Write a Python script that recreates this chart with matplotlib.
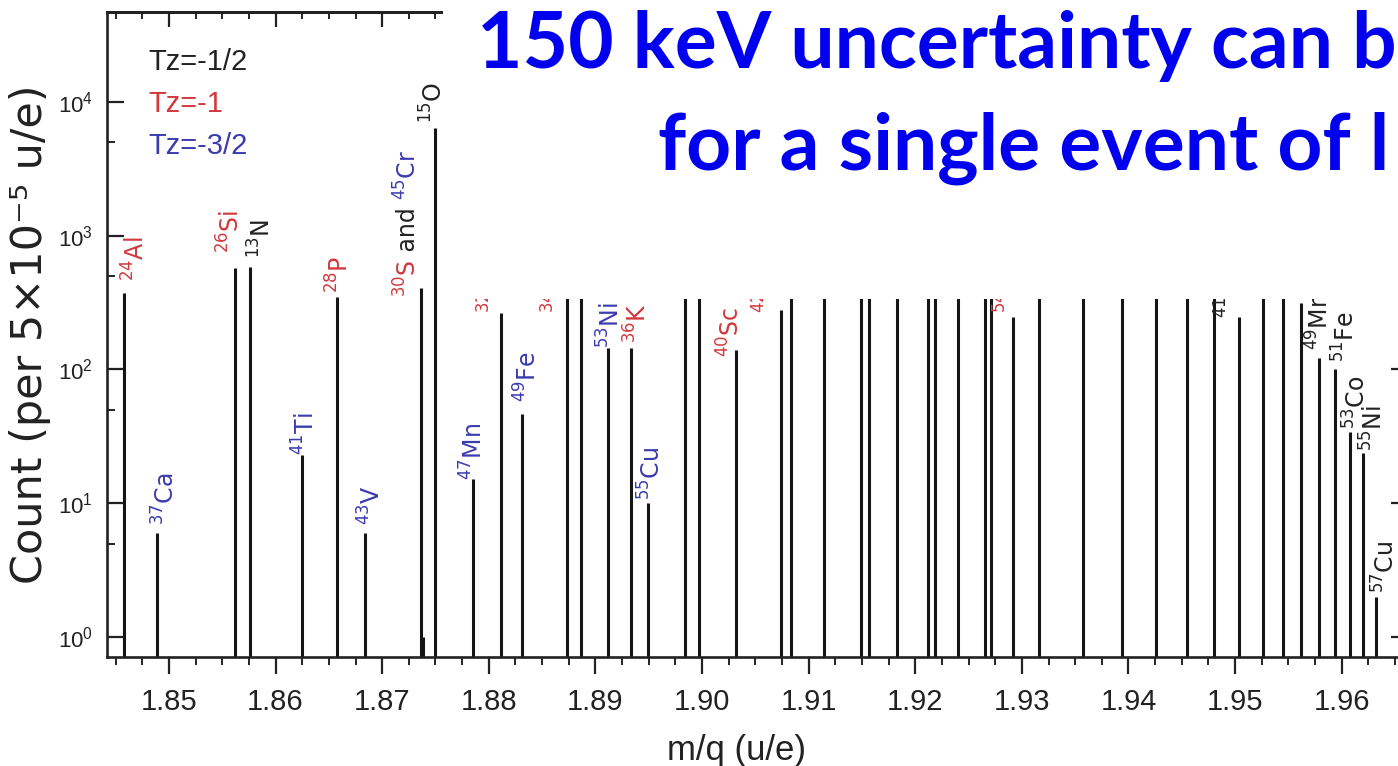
import matplotlib.pyplot as plt
from matplotlib.patches import Rectangle
from matplotlib.ticker import MultipleLocator, LogLocator, FormatStrFormatter, NullFormatter

# peak positions (m/q, u/e) and counts per 5e-5 u/e bin
mq = [1.84579, 1.84891, 1.85620, 1.85756, 1.86246, 1.86575, 1.86839, 1.87364, 1.87386, 1.87494,
      1.87855, 1.88113, 1.88312, 1.88737, 1.88865, 1.89122, 1.89334, 1.89497, 1.89837, 1.89969,
      1.90323, 1.90744, 1.90839, 1.91146, 1.91487, 1.91566, 1.91826, 1.92115, 1.92185, 1.92404,
      1.92652, 1.92711, 1.92915, 1.93165, 1.93569, 1.93935, 1.94258, 1.94547, 1.94798, 1.95040,
      1.95264, 1.95453, 1.95622, 1.95787, 1.95933, 1.96078, 1.96200, 1.96322]
counts = [370, 6.0, 574, 580, 23, 348, 6.0, 407, 1.0, 6390,
          15.1, 263, 46.5, 1200, 3000, 144, 144, 10.1, 2500, 1800,
          140, 279, 2200, 3500, 1500, 2800, 4000, 2000, 3000, 2500,
          1200, 2600, 248, 3800, 5000, 2400, 3300, 4200, 2900, 248,
          1900, 2700, 316, 121, 100, 34.3, 23.9, 2.0]

# nuclide labels and their isospin projection
lab_text = [r'$^{24}$Al', r'$^{37}$Ca', r'$^{26}$Si', r'$^{13}$N', r'$^{41}$Ti', r'$^{28}$P',
            r'$^{43}$V', r'$^{15}$O', r'$^{47}$Mn', r'$^{32}$Cl', r'$^{49}$Fe', r'$^{34}$Ar',
            r'$^{53}$Ni', r'$^{36}$K', r'$^{55}$Cu', r'$^{40}$Sc', r'$^{42}$Ti', r'$^{54}$Ni',
            r'$^{41}$Sc', r'$^{49}$Mn', r'$^{51}$Fe', r'$^{53}$Co', r'$^{55}$Ni', r'$^{57}$Cu']
lab_tz = ['-1', '-3/2', '-1', '-1/2', '-3/2', '-1', '-3/2', '-1/2', '-3/2', '-1', '-3/2', '-1',
          '-3/2', '-1', '-3/2', '-1', '-1', '-1', '-1/2', '-1/2', '-1/2', '-1/2', '-1/2', '-1/2']
tz_names = ['-1/2', '-1', '-3/2']

# where each label sits (m/q of its centre, count at its lower end)
lab_x = [1.84690, 1.84975, 1.85582, 1.85870, 1.86290, 1.86600, 1.86900, 1.87486, 1.87860, 1.88030,
         1.88370, 1.88631, 1.89150, 1.89395, 1.89530, 1.90272, 1.90610, 1.92870, 1.94943, 1.95800,
         1.96040, 1.96140, 1.96305, 1.96420]
lab_y = [459, 6.9, 743, 682, 23, 373, 6.9, 6970, 14.9, 264,
         57, 264, 145, 158, 10.6, 124, 264, 264, 243, 140,
         114, 36, 24.5, 2.13]

tz_colors = {'-1/2': '#222222', '-1': '#d2383c', '-3/2': '#3b3bb0'}

plt.rcParams['font.family'] = ['Liberation Sans', 'DejaVu Sans']
plt.rcParams['mathtext.fontset'] = 'dejavusans'

fig = plt.figure(figsize=(13.98, 7.66), dpi=100)
ax = fig.add_axes([0.07654, 0.14295, 0.93062, 0.84178])

ax.vlines(mq, 0.5, counts, color='#151515', lw=2.2)
ax.set_yscale('log')
ax.set_xlim(1.84419, 1.96622)
ax.set_ylim(0.715, 47300)

for s in ax.spines.values():
    s.set_linewidth(1.9)
    s.set_color('#222222')

ax.xaxis.set_major_locator(MultipleLocator(0.01))
ax.xaxis.set_minor_locator(MultipleLocator(0.0025))
ax.xaxis.set_major_formatter(FormatStrFormatter('%.2f'))
ax.yaxis.set_major_locator(LogLocator(base=10, numticks=10))
ax.yaxis.set_minor_locator(LogLocator(base=10, subs=[5.0], numticks=10))
ax.yaxis.set_minor_formatter(NullFormatter())

ax.tick_params(axis='x', which='both', direction='out', top=False, labelsize=21,
               pad=11, colors='#222222')
ax.tick_params(axis='y', which='both', direction='in', left=True, right=True,
               labelsize=16, pad=10, colors='#222222')
ax.tick_params(which='major', length=12, width=1.6)
ax.tick_params(which='minor', length=6, width=1.4)

top = ax.secondary_xaxis('top')
top.xaxis.set_major_locator(MultipleLocator(0.01))
top.xaxis.set_minor_locator(MultipleLocator(0.0025))
top.tick_params(which='both', direction='in', labeltop=False, colors='#222222')
top.tick_params(which='major', length=11, width=1.6)
top.tick_params(which='minor', length=5, width=1.4)
top.spines['top'].set_linewidth(1.9)

ax.set_xlabel('m/q (u/e)', fontsize=25, color='#222222')
ax.xaxis.set_label_coords(0.4835, -0.12)
ax.set_ylabel('Count (per 5×10⁻⁵ u/e)', fontsize=31, family='DejaVu Sans', color='#222222')
ax.yaxis.set_label_coords(-0.043, 0.5)

for t, tz, x, y in zip(lab_text, lab_tz, lab_x, lab_y):
    ax.text(x, y, t, rotation=90, ha='center', va='bottom', fontsize=17,
            family='DejaVu Sans', color=tz_colors[tz])

# the shared 30S / 45Cr label, built from three coloured pieces
p1 = ax.text(1.87240, 348, r'$^{30}$S', rotation=90, ha='center', va='bottom', fontsize=17,
             family='DejaVu Sans', color=tz_colors['-1'])
p2 = ax.annotate(' and ', xy=(1.87240, 1), xycoords=('data', p1), rotation=90, ha='center',
                 va='bottom', fontsize=17, family='DejaVu Sans', color='#222222')
ax.annotate(r'$^{45}$Cr', xy=(1.87240, 1), xycoords=('data', p2), rotation=90, ha='center',
            va='bottom', fontsize=17, family='DejaVu Sans', color=tz_colors['-3/2'])

for i, name in enumerate(tz_names):
    ax.text(0.0315, 0.9096 - i * 0.0655, 'Tz=' + name, transform=ax.transAxes, fontsize=21,
            color=tz_colors[name], ha='left', va='baseline')

# slide overlay: white panel and headline
fig.add_artist(Rectangle((443 / 1398, 467 / 766), 1, 1, transform=fig.transFigure,
                         facecolor='white', edgecolor='none', zorder=1))
fig.text(477 / 1398, 698 / 766, '150 keV uncertainty can be', fontsize=56.5, family='Lato',
         weight='bold', color='#0000ee', ha='left', va='baseline', zorder=5)
fig.text(658 / 1398, 596 / 766, 'for a single event of l', fontsize=56.5, family='Lato',
         weight='bold', color='#0000ee', ha='left', va='baseline', zorder=5)

fig.savefig('out.png', dpi=100, facecolor='white')
